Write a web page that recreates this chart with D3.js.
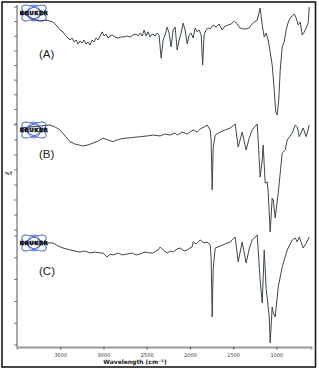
<!DOCTYPE html>
<html>
<head>
<meta charset="utf-8">
<script src="https://cdn.jsdelivr.net/npm/d3@7"></script>
<style>
body { margin: 0; background: #fff; }
#chart { width: 319px; height: 371px; }
</style>
</head>
<body>
<div id="chart"></div>
<script>
// 光谱数据 [wavenumber, %T]
let spectrumA = [[3965,96],[3907,95],[3850,92.5],[3792,91],[3734,90.4],[3676,91],[3618,90.4],[3583,89.7],[3537,87],[3502,84.3],[3468,83],[3433,80.2],[3410,78.8],[3387,77.4],[3363,78.8],[3340,76.1],[3317,77.4],[3294,74.7],[3271,76.8],[3248,75.4],[3225,77.4],[3201,74.7],[3178,76.1],[3155,74],[3132,77.4],[3109,76.1],[3086,78.8],[3063,77.4],[3039,80.2],[3016,83],[2993,80.2],[2970,81.5],[2947,78.8],[2924,80.2],[2901,80.9],[2866,79.5],[2831,78.8],[2796,79.5],[2762,79.5],[2727,80.2],[2692,79.5],[2657,80.9],[2623,81.5],[2600,80.2],[2576,82.2],[2553,80.2],[2530,84.3],[2507,80.2],[2484,83],[2461,79.5],[2438,81.5],[2403,80.2],[2380,82.2],[2357,80.9],[2333,65],[2310,77.4],[2287,80.9],[2264,86.3],[2241,82.2],[2218,72.7],[2194,84.3],[2171,86.3],[2148,70.6],[2125,77.4],[2102,82.2],[2079,89],[2056,84.3],[2032,74.7],[2009,80.9],[1986,82.2],[1963,78.8],[1940,85.6],[1917,83],[1894,84.3],[1870,80.9],[1853,60.3],[1836,80.9],[1813,84.3],[1789,85.6],[1766,85],[1731,87.7],[1697,86.3],[1662,88.4],[1627,84.3],[1593,87],[1558,87.7],[1523,88.4],[1488,90.4],[1454,88.4],[1419,85.6],[1384,85],[1350,85],[1315,85.6],[1292,87.7],[1257,89.7],[1222,91],[1188,99.3],[1164,87.7],[1141,79.5],[1118,82.2],[1095,77.4],[1072,69.2],[1049,60.3],[1025,43.2],[1008,28.2],[991,26.2],[973,36.4],[956,56.9],[933,72.7],[910,76.1],[887,84.3],[863,89.7],[840,92.5],[817,93.9],[794,95.2],[771,92.5],[748,87.7],[725,89.7],[702,80.9],[678,82.9],[655,85.6],[632,89.1],[620,100]];

let spectrumB = [[3965,98],[3850,98.7],[3734,99.3],[3618,100],[3560,98.7],[3502,96.7],[3444,92.7],[3387,88.9],[3329,87.3],[3236,86],[3178,86.7],[3120,88],[3063,89.3],[3005,91.3],[2947,90],[2889,88.9],[2808,90.7],[2727,91.3],[2657,91.7],[2576,92.2],[2495,92.7],[2426,93.3],[2345,92.7],[2287,94],[2229,93.3],[2171,94.7],[2148,93.3],[2090,95.3],[2032,94],[1963,96.7],[1917,95.3],[1882,97.3],[1836,98.7],[1801,100],[1766,96.7],[1755,90],[1743,56.7],[1731,85],[1708,93.3],[1650,95.3],[1593,96.7],[1535,98],[1477,100.7],[1442,85.3],[1396,95.3],[1350,83.3],[1315,91.3],[1280,96.7],[1222,100.7],[1211,90],[1188,65.3],[1164,76.7],[1153,86.7],[1130,61.3],[1106,62],[1095,55.3],[1072,28.7],[1049,51.3],[1037,50],[1014,38],[979,54.7],[933,81.3],[898,83.3],[875,90],[817,94.7],[782,100],[759,98.7],[736,92.2],[690,98],[655,92.2],[620,100]];

let spectrumC = [[3965,93.6],[3850,93.6],[3734,93.6],[3583,93.6],[3526,90.8],[3468,89],[3387,87.2],[3329,86.2],[3271,85.3],[3213,86.2],[3155,84.4],[3097,85.3],[3039,84.4],[3005,84.4],[2958,80.7],[2924,83.5],[2889,82.6],[2831,84.4],[2785,82.6],[2727,83.5],[2669,84.4],[2623,82.6],[2576,83.5],[2519,85.3],[2461,84.4],[2426,84.4],[2368,87.2],[2345,89.9],[2310,87.2],[2264,84.4],[2229,86.2],[2194,85.3],[2148,88.1],[2113,89],[2067,86.2],[2032,87.2],[1998,89],[1975,89.9],[1963,94.5],[1928,92.7],[1882,96.3],[1836,93.6],[1801,94.5],[1766,91.7],[1755,80],[1743,25.7],[1731,70],[1708,89],[1650,90.8],[1593,92.7],[1535,94.5],[1477,99.1],[1442,76.1],[1396,94.5],[1350,75.2],[1315,88.1],[1280,96.3],[1222,100.9],[1188,59.6],[1164,38.5],[1141,87.2],[1118,50.5],[1106,43.1],[1083,25.7],[1072,1.8],[1049,34.9],[1037,29.4],[1014,25.7],[979,53.2],[933,71.6],[875,87.2],[817,96.3],[782,98.2],[759,94.5],[736,99.1],[690,89],[655,93.6],[620,99.1]];

let panelNames = ["(A)", "(B)", "(C)"];
let xTicks = [3500, 3000, 2500, 2000, 1500, 1000];
let xDomain = [4000, 600];
let yDomains = [[20, 100], [30, 100], [0, 100]];
let yTicks = [d3.range(20, 101, 10), d3.range(30, 101, 10), d3.range(0, 101, 20)];
let xLabel = "Wavelength (cm\u207B\u00B9)";
let yLabel = "%T";

drawLogo = (g, cx, cy) => {
    let logo = g.append("g").attr("transform", "translate(" + cx + "," + cy + ")");
    [-28, 28].forEach(a => {
        logo.append("ellipse").attr("rx", 13.5).attr("ry", 5.5)
        .attr("fill", "none").attr("stroke", "#2f4fe0").attr("stroke-width", 0.9)
        .attr("transform", "rotate(" + a + ")");
    });
    logo.append("ellipse").attr("rx", 6).attr("ry", 8)
    .attr("fill", "none").attr("stroke", "#2f4fe0").attr("stroke-width", 0.8);
    logo.append("text").attr("x", 0).attr("y", 2).attr("text-anchor", "middle")
    .attr("font-family", "DejaVu Sans").attr("font-weight", "bold").attr("font-size", 5.5)
    .attr("letter-spacing", 0.6).attr("fill", "#111").attr("stroke", "#111").attr("stroke-width", 0.5)
    .text("BRUKER");
}

drawChart = (divID) => {
    let width = 319, height = 371;
    let svg = d3.select("#" + divID).append("svg").attr("width", width).attr("height", height);

    // 外框
    svg.append("rect").attr("x", 2).attr("y", 2).attr("width", 313.5).attr("height", 365)
    .attr("fill", "#fff").attr("stroke", "#1a1a1a").attr("stroke-width", 1.6);

    let x = d3.scaleLinear().domain(xDomain).range([17, 311]);
    let yRanges = [[124, 7], [230, 125], [345, 236]];
    let ys = yDomains.map((d, i) => d3.scaleLinear().domain(d).range(yRanges[i]));
    let spectra = [spectrumA, spectrumB, spectrumC];
    let logoY = [13, 130, 243];
    let nameY = [58, 158, 275];

    // 左轴
    svg.append("line").attr("x1", 17).attr("y1", 5).attr("x2", 17).attr("y2", 347)
    .attr("stroke", "#555").attr("stroke-width", 1);
    ys.forEach((y, i) => {
        svg.append("g").selectAll("line").data(yTicks[i]).enter().append("line")
        .attr("x1", 14).attr("x2", 17).attr("y1", d => y(d)).attr("y2", d => y(d))
        .attr("stroke", "#555").attr("stroke-width", 0.8);
    });
    svg.append("text").attr("x", 5).attr("y", 175).attr("font-family", "DejaVu Sans")
    .attr("font-weight", "bold").attr("font-size", 4.5).attr("fill", "#222").text(yLabel);

    // 底轴
    let xAxis = d3.axisBottom(x).tickValues(xTicks).tickSize(2.5).tickPadding(4).tickFormat(d3.format("d"));
    let gx = svg.append("g").attr("transform", "translate(0,347)").call(xAxis);
    gx.select(".domain").attr("stroke", "#999").attr("stroke-width", 2);
    gx.selectAll(".tick line").attr("stroke", "#555");
    gx.selectAll(".tick text").attr("font-family", "DejaVu Sans").attr("font-size", 5).attr("fill", "#333");
    svg.append("text").attr("x", 135).attr("y", 364).attr("text-anchor", "middle")
    .attr("font-family", "DejaVu Sans").attr("font-weight", "bold").attr("font-size", 6)
    .attr("fill", "#222").text(xLabel);

    // 光谱
    spectra.forEach((s, i) => {
        let line = d3.line().x(d => x(d[0])).y(d => ys[i](d[1]));
        svg.append("path").attr("d", line(s)).attr("fill", "none")
        .attr("stroke", "#3b4a47").attr("stroke-width", 1).attr("stroke-linejoin", "round");
        drawLogo(svg, 34, logoY[i]);
        svg.append("text").attr("x", 39).attr("y", nameY[i]).attr("font-family", "Liberation Sans")
        .attr("font-size", 11.5).attr("fill", "#222").text(panelNames[i]);
    });
}

drawChart("chart");
</script>
</body>
</html>
